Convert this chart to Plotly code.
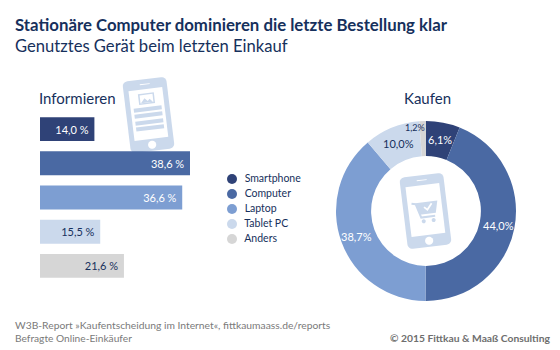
import math
import plotly.graph_objects as go

W, H = 560, 350
categories = ["Smartphone", "Computer", "Laptop", "Tablet PC", "Anders"]
colors = ["#2f4277", "#4a69a3", "#7d9ed2", "#cbd9ec", "#d6d6d6"]
informieren = [14.0, 38.6, 36.6, 15.5, 21.6]
informieren_labels = ["14,0 %", "38,6 %", "36,6 %", "15,5 %", "21,6 %"]
kaufen = [6.1, 44.0, 38.7, 10.0, 1.2]
kaufen_labels = ["6,1%", "44,0%", "38,7%", "10,0%", "1,2%"]
NAVY = "#16305c"
ICON = "#cbd9ec"
FONT = "Lato"


def px(x):
    return x / W


def py(y):
    return 1 - y / H


def rot(cx, cy, ang):
    a = math.radians(ang)

    def f(x, y):
        return (cx + x * math.cos(a) + y * math.sin(a), cy - x * math.sin(a) + y * math.cos(a))
    return f


def path(pts, close=True):
    s = ""
    for i, (x, y) in enumerate(pts):
        s += ("M" if i == 0 else "L") + f"{px(x):.5f},{py(y):.5f} "
    return s + ("Z" if close else "")


def rrect(f, x0, y0, x1, y1, r=0):
    pts = []
    if r == 0:
        pts = [(x0, y0), (x1, y0), (x1, y1), (x0, y1)]
    else:
        for cx, cy, s in [(x1 - r, y0 + r, -90), (x1 - r, y1 - r, 0), (x0 + r, y1 - r, 90), (x0 + r, y0 + r, 180)]:
            for k in range(7):
                t = math.radians(s + k * 15)
                pts.append((cx + r * math.cos(t), cy + r * math.sin(t)))
    return [f(*p) for p in pts]


def circle(f, x, y, r):
    return [f(x + r * math.cos(k * math.pi / 12), y + r * math.sin(k * math.pi / 12)) for k in range(24)]


shapes = []


def fill(pts, color):
    shapes.append(dict(type="path", path=path(pts), fillcolor=color, line=dict(width=0),
                       xref="paper", yref="paper", layer="below"))


def stroke(pts, color, w=1.5):
    shapes.append(dict(type="path", path=path(pts, False), line=dict(color=color, width=w),
                       xref="paper", yref="paper", layer="below"))


def phone(cx, cy, ang):
    f = rot(cx, cy, ang)
    fill(rrect(f, -22, -36, 22, 36, 5), ICON)
    fill(rrect(f, -17, -26, 17, 24, 0), "#ffffff")
    fill(rrect(f, -5, -31.5, 5, -30.5, 0), "#ffffff")
    fill(circle(f, 0, 30, 4), "#ffffff")
    return f


# left phone
f = phone(148.5, 115, 7)
fill(rrect(f, -8, -22, 8, -11, 0), ICON)
fill(rrect(f, -6.5, -20.5, 6.5, -12.5, 0), "#ffffff")
fill([f(-6, -12.5), f(-2, -17), f(1, -14), f(3, -16), f(6, -12.5)], ICON)
for yy in (-8, -2, 5, 11):
    fill(rrect(f, -14, yy, 14, yy + 4, 0), ICON)

# right phone
f = phone(425.5, 211, 7)
stroke([f(-13, -9), f(-9, -8), f(-5, 6), f(9, 6)], ICON, 2)
fill([f(-9, -9), f(13, -9), f(10, 3), f(-6, 3)], ICON)
fill(circle(f, -3, 10, 2), ICON)
fill(circle(f, 7, 10, 2), ICON)
stroke([f(-1, -4), f(2, -1), f(7, -7)], "#ffffff", 1.8)

fig = go.Figure()
fig.add_trace(go.Bar(
    x=informieren, y=categories, orientation="h",
    marker=dict(color=colors, line=dict(width=0)),
    text=[t + "\u00a0" for t in informieren_labels],
    textposition="inside", insidetextanchor="end", textangle=0,
    constraintext="none", cliponaxis=False,
    textfont=dict(family=FONT, size=11, color=["#ffffff", "#ffffff", "#ffffff", NAVY, NAVY]),
    xaxis="x", yaxis="y", showlegend=False, hoverinfo="skip",
))
fig.add_trace(go.Scatter(
    x=[0] * 5, y=categories, mode="markers+text",
    marker=dict(color=colors, size=10, line=dict(width=0)),
    text=["\u00a0\u00a0" + c for c in categories], textposition="middle right",
    textfont=dict(family=FONT, size=10.5, color=NAVY),
    xaxis="x2", yaxis="y2", showlegend=False, hoverinfo="skip", cliponaxis=False,
))
fig.add_trace(go.Pie(
    values=kaufen, labels=categories, sort=False, direction="clockwise", rotation=0,
    hole=0.61, marker=dict(colors=colors, line=dict(width=0)), textinfo="none",
    domain=dict(x=[px(336), px(516)], y=[py(301), py(121)]),
    showlegend=False, hoverinfo="skip",
))


def note(text, x, y, size, color=NAVY, anchor="left", bold=False):
    if bold:
        text = f"<b>{text}</b>"
    return dict(text=text, x=px(x), y=py(y), xref="paper", yref="paper", showarrow=False,
                xanchor=anchor, yanchor="middle", font=dict(family=FONT, size=size, color=color))


annotations = [
    note("Stationäre Computer dominieren die letzte Bestellung klar", 12.5, 24, 16.8, bold=True),
    note("Genutztes Gerät beim letzten Einkauf", 12.5, 46, 16.6),
    note("Informieren", 36.5, 98, 15),
    note("Kaufen", 427, 98, 15, anchor="center"),
    note("W3B-Report »Kaufentscheidung im Internet«, fittkaumaass.de/reports", 12.5, 325, 10.3, "#7a7a7a"),
    note("Befragte Online-Einkäufer", 12.5, 338, 10.2, "#7a7a7a"),
    note("© 2015 Fittkau & Maaß Consulting", 553, 338, 10.3, "#6e6e6e", anchor="right", bold=True),
]
pie_pos = [(439.5, 139), (498, 225), (356, 236), (398, 143), (415, 128)]
pie_col = ["#ffffff", "#ffffff", "#ffffff", NAVY, NAVY]
pie_size = [11, 11, 11, 11, 9]
for lab, (x, y), c, s in zip(kaufen_labels, pie_pos, pie_col, pie_size):
    annotations.append(note(lab, x, y, s, c, anchor="center"))

fig.update_layout(
    width=W, height=H, margin=dict(l=0, r=0, t=0, b=0),
    paper_bgcolor="#ffffff", plot_bgcolor="rgba(0,0,0,0)",
    bargap=0.3, shapes=shapes, annotations=annotations, showlegend=False,
    xaxis=dict(domain=[px(40), px(40 + 50 * 150 / 38.6)], range=[0, 50], visible=False, anchor="y"),
    yaxis=dict(domain=[py(283), py(112)], categoryorder="array", categoryarray=categories,
               autorange="reversed", visible=False, anchor="x"),
    xaxis2=dict(domain=[px(232), px(330)], range=[0, 98], visible=False, anchor="y2"),
    yaxis2=dict(domain=[py(246.5), py(171.5)], categoryorder="array", categoryarray=categories,
                range=[4.5, -0.5], visible=False, anchor="x2"),
)
fig.write_html("out.html", config=dict(displayModeBar=False),
               post_script="document.body.style.margin='0';")
